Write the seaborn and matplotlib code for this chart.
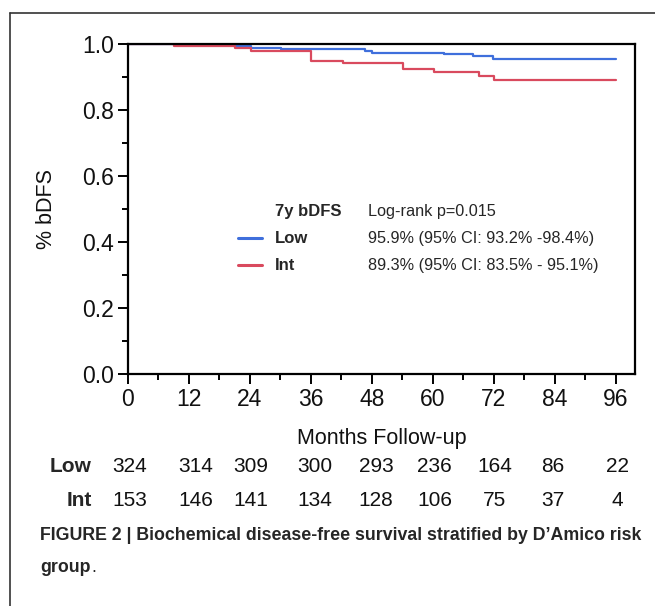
import pandas as pd
import seaborn as sns
from matplotlib import pyplot as plt
from matplotlib.lines import Line2D
from matplotlib.ticker import MultipleLocator

# Kaplan-Meier steps
low_months = [0, 20.9, 24.3, 30.1, 46.7, 48.0, 62.3, 68.0, 71.8, 96]
low_surv = [1.0, 0.995, 0.989, 0.984, 0.980, 0.974, 0.970, 0.964, 0.956, 0.956]

int_months = [0, 9.1, 21.1, 24.2, 36.0, 42.3, 54.2, 60.2, 69.1, 72.0, 96]
int_surv = [1.0, 0.995, 0.988, 0.979, 0.949, 0.942, 0.923, 0.915, 0.902, 0.890, 0.890]

groups = ['Low', 'Int']
colors = {'Low': '#3f6fdc', 'Int': '#d94a5e'}

# number at risk table
risk_pos = [0.4, 13.4, 24.2, 36.8, 48.8, 60.4, 72.2, 83.6, 96.4]
risk_low = [324, 314, 309, 300, 293, 236, 164, 86, 22]
risk_int = [153, 146, 141, 134, 128, 106, 75, 37, 4]

legend_header = ['7y bDFS', 'Log-rank p=0.015']
legend_rows = ['95.9% (95% CI: 93.2% -98.4%)', '89.3% (95% CI: 83.5% - 95.1%)']

caption = 'FIGURE 2 | Biochemical disease-free survival stratified by D\u2019Amico risk'

df = pd.concat([
    pd.DataFrame({'month': low_months, 'surv': low_surv, 'group': 'Low'}),
    pd.DataFrame({'month': int_months, 'surv': int_surv, 'group': 'Int'}),
])

sns.set_theme(style='ticks')
plt.rcParams['font.family'] = ['Liberation Sans', 'DejaVu Sans']

fig = plt.figure(figsize=(6.55, 6.06), dpi=100)
ax = fig.add_axes([0.1954, 0.3828, 0.7740, 0.5446])

sns.lineplot(data=df, x='month', y='surv', hue='group', hue_order=groups,
             palette=colors, drawstyle='steps-post', estimator=None,
             sort=False, legend=False, linewidth=1.6, ax=ax)

ax.set_xlim(0, 99.8)
ax.set_ylim(0, 1.0)
ax.set_xticks(range(0, 97, 12))
ax.set_yticks([0, 0.2, 0.4, 0.6, 0.8, 1.0])
ax.set_yticklabels(['0.0', '0.2', '0.4', '0.6', '0.8', '1.0'])
ax.xaxis.set_minor_locator(MultipleLocator(6))
ax.yaxis.set_minor_locator(MultipleLocator(0.1))
ax.tick_params(which='major', direction='out', length=7, width=1.4,
               labelsize=16.5, color='black', labelcolor='#111111', pad=3)
ax.tick_params(which='minor', direction='out', length=4, width=1.4, color='black')
for s in ax.spines.values():
    s.set_linewidth(1.6)
    s.set_color('black')
    s.set_visible(True)

ax.set_xlabel('Months Follow-up', fontsize=15.5, labelpad=12, color='#111111')
ax.set_ylabel('% bDFS', fontsize=15.5, labelpad=18, color='#111111')

# custom legend block
ax.text(28.9, 0.491, legend_header[0], fontsize=12, fontweight='bold', va='center')
ax.text(47.2, 0.491, legend_header[1], fontsize=11.7, va='center')
for g, yy, txt in zip(groups, [0.412, 0.330], legend_rows):
    ax.plot([21.6, 26.4], [yy, yy], color=colors[g], lw=2.2)
    ax.text(28.9, yy, g, fontsize=12, fontweight='bold', va='center')
    ax.text(47.2, yy, txt, fontsize=11.7, va='center')

# number at risk below the axis
trans = ax.get_xaxis_transform()
for name, counts, yy in [('Low', risk_low, -0.279), ('Int', risk_int, -0.382)]:
    ax.text(-7.1, yy, name, fontsize=15, fontweight='bold', ha='right', va='center',
            transform=trans, clip_on=False)
    for xp, n in zip(risk_pos, counts):
        ax.text(xp, yy, str(n), fontsize=15, ha='center', va='center',
                transform=trans, clip_on=False, color='#111111')

# caption and frame
fig.text(40 / 655, 1 - 536 / 606, caption, fontsize=12.8, fontweight='bold', va='center')
t = fig.text(40 / 655, 1 - 568 / 606, 'group', fontsize=12.8, fontweight='bold', va='center')
fig.canvas.draw()
bb = t.get_window_extent()
fig.text(bb.x1 / fig.bbox.width + 0.001, 1 - 568 / 606, '.', fontsize=12.8, va='center')

fig.add_artist(Line2D([10 / 655, 10 / 655], [0, 1 - 13 / 606], color='#333333', lw=1.2))
fig.add_artist(Line2D([10 / 655, 1], [1 - 13 / 606, 1 - 13 / 606], color='#333333', lw=1.2))

fig.savefig('out.png', dpi=100)
